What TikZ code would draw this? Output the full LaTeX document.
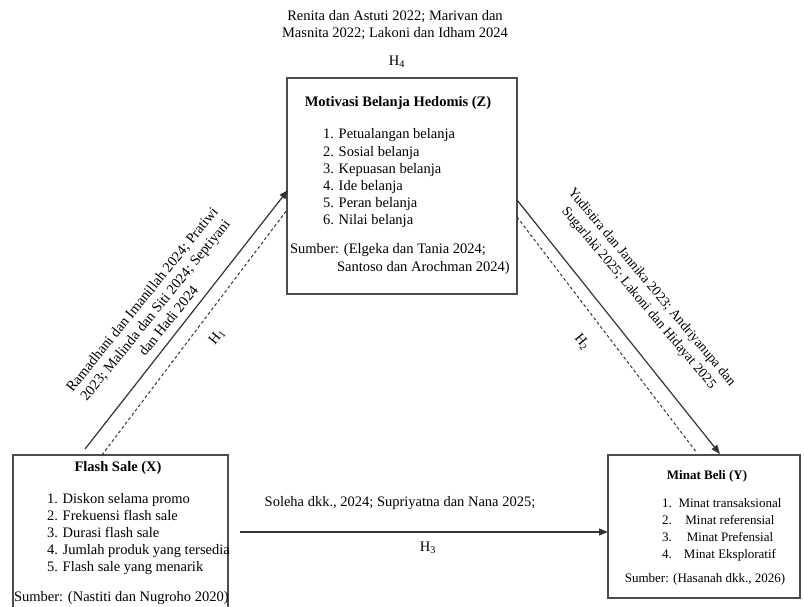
\documentclass[tikz,border=0pt]{standalone}
\usepackage{fontspec}
\setmainfont{Liberation Serif}
\usetikzlibrary{arrows.meta,calc}
\begin{document}
\begin{tikzpicture}[x=1pt,y=-1pt,
  every node/.style={inner sep=0pt, outer sep=0pt, font=\fontsize{14.5}{17}\selectfont},
  box/.style={draw=black!70, line width=1.3pt, anchor=north west},
  txt/.style={anchor=base west},
  stxt/.style={anchor=base west, font=\fontsize{13}{16}\selectfont},
  ttl/.style={anchor=base, font=\fontsize{14.5}{17}\selectfont\bfseries},
  conn/.style={draw=black!80, line width=1.2pt, -{Triangle[length=9pt,width=7pt]}},
  dconn/.style={draw=black!80, line width=1pt, dash pattern=on 3pt off 2.5pt},
  lbl/.style={align=center}]
\useasboundingbox (0,0) rectangle (804,607);

% boxes
\node[box, minimum width=230pt, minimum height=216pt] (Z) at (287,78) {};
\node[box, minimum width=215pt, minimum height=162pt] (X) at (13,455) {};
\node[box, minimum width=192pt, minimum height=143pt] (Y) at (608,455) {};

% connectors
\draw[conn] ($(X.north west)+(72,-6)$) -- ($(Z.north west)+(1,112)$);
\draw[dconn] ($(X.north west)+(89,0)$) -- ($(Z.north west)+(0,132)$);
\draw[conn] ($(Z.north east)+(0,122)$) -- ($(Y.north west)+(112,-1)$);
\draw[dconn] ($(Z.north east)+(0,139)$) -- ($(Y.north west)+(89,-2)$);
\draw[conn] ($(X.north east)+(12,77)$) -- ($(Y.north west)+(0,77)$);

% Z contents
\node[ttl] (zt) at (398,107) {Motivasi Belanja Hedomis (Z)};
\node[txt] (z1) at (323,139) {1. Petualangan belanja};
\node[txt] (z2) at (323,156.2) {2. Sosial belanja};
\node[txt] (z3) at (323,173.4) {3. Kepuasan belanja};
\node[txt] (z4) at (323,190.6) {4. Ide belanja};
\node[txt] (z5) at (323,207.8) {5. Peran belanja};
\node[txt] (z6) at (323,225) {6. Nilai belanja};
\node[txt] (zs1) at (290,254) {Sumber: (Elgeka dan Tania 2024;};
\node[txt] (zs2) at (337,272) {Santoso dan Arochman 2024)};

% X contents
\node[ttl] (xt) at (118,471) {Flash Sale (X)};
\node[txt] (x1) at (47,503) {1. Diskon selama promo};
\node[txt] (x2) at (47,520) {2. Frekuensi flash sale};
\node[txt] (x3) at (47,537) {3. Durasi flash sale};
\node[txt] (x4) at (47,554) {4. Jumlah produk yang tersedia};
\node[txt] (x5) at (47,571) {5. Flash sale yang menarik};
\node[txt] (xs) at (14,601) {Sumber: (Nastiti dan Nugroho 2020)};

% Y contents
\node[ttl, font=\fontsize{13}{16}\selectfont\bfseries] (yt) at (707,479) {Minat Beli (Y)};
\node[stxt] (y1n) at (662,507) {1.};
\node[stxt] (y2n) at (662,524) {2.};
\node[stxt] (y3n) at (662,541) {3.};
\node[stxt] (y4n) at (662,558) {4.};
\node[stxt, anchor=base] (y1) at (730,507) {Minat transaksional};
\node[stxt, anchor=base] (y2) at (730,524) {Minat referensial};
\node[stxt, anchor=base] (y3) at (730,541) {Minat Prefensial};
\node[stxt, anchor=base] (y4) at (730,558) {Minat Eksploratif};
\node[stxt, anchor=base] (ys) at (705,582) {Sumber: (Hasanah dkk., 2026)};

% labels
\node[lbl] (lz) at (395,25) {Renita dan Astuti 2022; Marivan dan\\Masnita 2022; Lakoni dan Idham 2024};
\node (h4) at (397,62) {H\textsubscript{4}};
\node[lbl, rotate=51] (lxz) at (155,310) {Ramadhani dan Imanillah 2024; Pratiwi\\2023; Malinda dan Siti 2024; Septiyani\\dan Hadi 2024};
\node[rotate=51] (h1) at (217,337) {H\textsubscript{1}};
\node[lbl, rotate=-50, font=\fontsize{13.8}{17}\selectfont] (lzy) at (645,293) {Yudistira dan Jannika 2023; Andriyanupa dan\\Sugarlaki 2025; Lakoni dan Hidayat 2025};
\node[rotate=-50] (h2) at (582,342) {H\textsubscript{2}};
\node[anchor=base] (lxy) at (400,506) {Soleha dkk., 2024; Supriyatna dan Nana 2025;};
\node (h3) at (428,548) {H\textsubscript{3}};
\end{tikzpicture}
\end{document}
